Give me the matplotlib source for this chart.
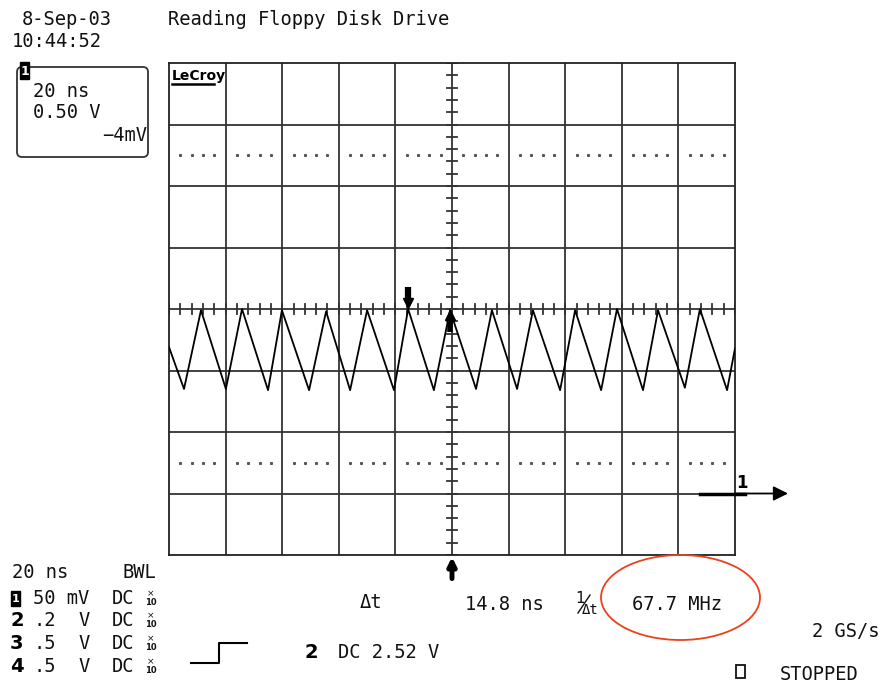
import numpy as np
import matplotlib
matplotlib.use("Agg")
from matplotlib import pyplot as plt
from matplotlib.patches import Ellipse, FancyBboxPatch, Rectangle

# waveform vertices (time in ns, volts)
wave_t = [-100.0, -94.7, -88.7, -79.9, -74.2, -65.0, -60.1, -50.5, -44.5, -36.0,
          -30.0, -20.5, -15.5, -6.4, -0.7, 8.5, 14.1, 23.0, 28.6, 38.2,
          43.5, 52.7, 58.3, 67.5, 72.8, 82.3, 87.6, 97.2, 100.0]
wave_v = [1.19, 0.85, 1.49, 0.85, 1.50, 0.84, 1.49, 0.84, 1.48, 0.84,
          1.49, 0.84, 1.50, 0.84, 1.49, 0.85, 1.49, 0.85, 1.49, 0.84,
          1.49, 0.84, 1.50, 0.84, 1.49, 0.86, 1.50, 0.84, 1.18]
cursor_t = [-15.6, -0.7]
trigger_t = 0.0

t_div, v_div = 20.0, 0.5
t_range = (-100.0, 100.0)
v_range = (-0.5, 3.5)
v_center = 1.5

channels = ["2", "3", "4"]
ch_volts = [".2", ".5", ".5"]

mono = "DejaVu Sans Mono"
fs = 13.5

fig = plt.figure(figsize=(8.85, 6.85), dpi=100)
W, H = 885, 685
ax = fig.add_axes([169 / W, (H - 555) / H, 566 / W, 492 / H])
ax.set_xlim(*t_range)
ax.set_ylim(*v_range)
ax.set_xticks([])
ax.set_yticks([])
for s in ax.spines.values():
    s.set_linewidth(1.3)
    s.set_color("#222222")

# graticule
gcol = "#333333"
for x in np.arange(t_range[0] + t_div, t_range[1], t_div):
    ax.axvline(x, color=gcol, lw=1.3, zorder=1)
for y in np.arange(v_range[0] + v_div, v_range[1], v_div):
    ax.axhline(y, color=gcol, lw=1.3, zorder=1)

# minor ticks on the centre lines
for x in np.arange(t_range[0], t_range[1] + 0.1, t_div / 5):
    ax.plot([x, x], [v_center - 0.04, v_center + 0.04], color=gcol, lw=1.3, zorder=1)
for y in np.arange(v_range[0], v_range[1] + 0.01, v_div / 5):
    ax.plot([-1.8, 1.8], [y, y], color=gcol, lw=1.3, zorder=1)

# dotted rows
dot_x = [x for x in np.arange(t_range[0], t_range[1], t_div / 5) if abs(x / t_div - round(x / t_div)) > 1e-6]
for y in [v_center - 2.5 * v_div, v_center + 2.5 * v_div]:
    ax.plot(dot_x, [y] * len(dot_x), ls="none", marker="s", ms=1.2, color="#555555", zorder=1)

ax.plot(wave_t, wave_v, color="black", lw=1.3, zorder=3)

# cursors
ax.plot([cursor_t[0]] * 2, [1.68, 1.56], color="black", lw=4.5, solid_capstyle="butt", zorder=4)
ax.plot(cursor_t[0], 1.545, marker="v", ms=7, color="black", zorder=4)
ax.plot(cursor_t[1], 1.45, marker="^", ms=7, color="black", zorder=4)
ax.plot([cursor_t[1]] * 2, [1.43, 1.31], color="black", lw=4, solid_capstyle="butt", zorder=4)

# trigger arrow below the grid
ax.annotate("", xy=(trigger_t, -0.004), xycoords=("data", "axes fraction"),
            xytext=(trigger_t, -0.048), textcoords=("data", "axes fraction"),
            arrowprops=dict(arrowstyle="-|>", lw=3.5, color="black", mutation_scale=12,
                            shrinkA=0, shrinkB=0))

# overlay in screen pixels for all the readout text
ov = fig.add_axes([0, 0, 1, 1], zorder=5)
ov.set_xlim(0, W)
ov.set_ylim(H, 0)
ov.axis("off")
ov.patch.set_alpha(0)

def txt(x, y, s, **kw):
    kw.setdefault("family", mono)
    kw.setdefault("fontsize", fs)
    kw.setdefault("va", "baseline")
    kw.setdefault("color", "#111111")
    ov.text(x, y, s, **kw)

txt(22, 25, "8-Sep-03")
txt(12, 47, "10:44:52")
txt(168, 25, "Reading Floppy Disk Drive")

# LeCroy logo
ov.text(172, 80, "LeCroy", family="DejaVu Sans", fontsize=10, weight="bold", va="baseline")
ov.plot([172, 214], [83.5, 83.5], color="black", lw=1.8)

# channel box
ov.add_patch(FancyBboxPatch((17, 67), 131, 90, boxstyle="round,pad=0,rounding_size=5",
                            fill=False, ec="#333333", lw=1.3))
ov.add_patch(Rectangle((20, 62), 9, 17, color="black"))
ov.text(24.5, 71, "1", color="white", fontsize=9, weight="bold", ha="center", va="center")
txt(33, 97, "20 ns")
txt(33, 118, "0.50 V")
txt(147, 141, "\u22124mV", ha="right")

# channel-1 ground marker
ov.annotate("", xy=(788, 493.5), xytext=(735, 493.5),
            arrowprops=dict(arrowstyle="-|>", lw=1.3, color="black", mutation_scale=22,
                            shrinkA=0, shrinkB=0))
ov.plot([700, 745], [493.5, 493.5], color="black", lw=2.5)
ov.text(736, 488, "1", family="DejaVu Sans", fontsize=12, weight="bold", va="baseline")

# bottom readouts
txt(12, 578, "20 ns")
txt(123, 578, "BWL")
ov.add_patch(Rectangle((11, 591), 9, 15, color="black"))
ov.text(15.5, 598.5, "1", color="white", fontsize=8, weight="bold", ha="center", va="center")
txt(33, 604, "50 mV")
txt(112, 604, "DC")
row_y = [626, 649, 672]
for ch, v, y in zip(channels, ch_volts, row_y):
    ov.text(10, y, ch, family="DejaVu Sans", fontsize=14, weight="bold", va="baseline")
    txt(33, y, v)
    txt(78, y, "V")
    txt(112, y, "DC")
for y in [604] + row_y:
    ov.text(151, y - 8, "\u00d7", fontsize=6.5, ha="center", va="baseline", color="#111111")
    ov.text(151, y + 1, "10", fontsize=6, weight="bold", ha="center", va="baseline", color="#111111")

txt(360, 608, "\u0394t")
txt(465, 610, "14.8 ns")
ov.text(575, 603, "1", fontsize=11, va="baseline", color="#111111")
ov.plot([578, 590], [613, 595], color="#111111", lw=1)
ov.text(582, 614, "\u0394t", family=mono, fontsize=10, va="baseline", color="#111111")
txt(632, 610, "67.7 MHz")
ov.add_patch(Ellipse((680.5, 597.5), 159, 85, fill=False, ec="#e8431f", lw=1.3))
txt(880, 637, "2 GS/s", ha="right")

# trigger level symbol
ov.plot([191, 219, 219, 247], [663, 663, 643, 643], color="black", lw=1.5)
ov.text(304, 658, "2", family="DejaVu Sans", fontsize=14, weight="bold", va="baseline")
txt(338, 658, "DC 2.52 V")

ov.add_patch(Rectangle((736, 665), 9, 13, fill=False, ec="#111111", lw=1.3))
txt(780, 680, "STOPPED")

fig.savefig("out.png", dpi=100, facecolor="white")
